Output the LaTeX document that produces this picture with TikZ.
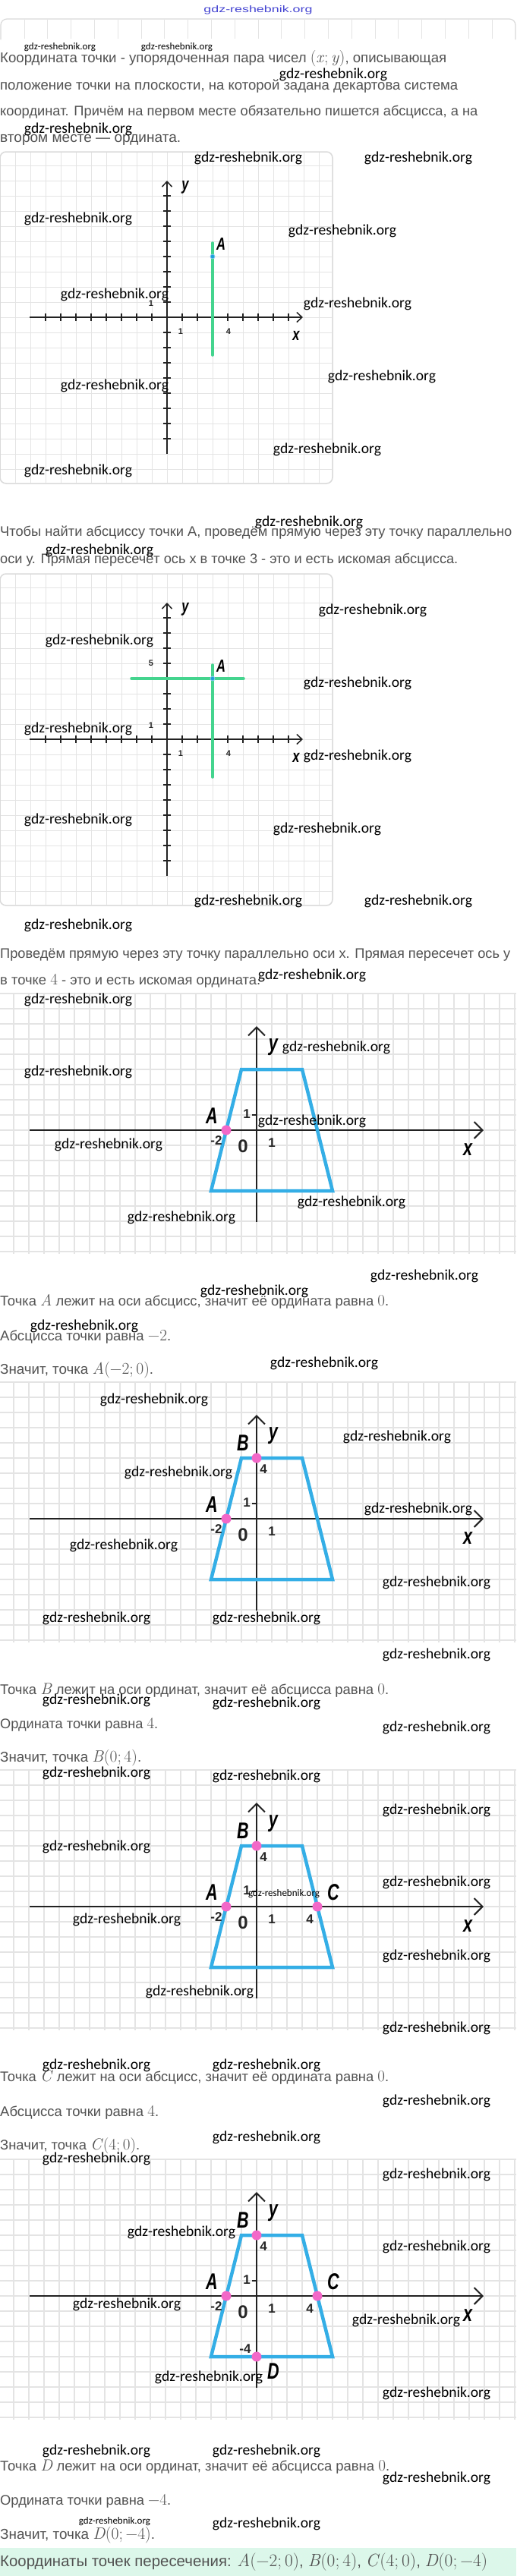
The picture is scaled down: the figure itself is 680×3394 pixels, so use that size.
\documentclass[tikz,border=0pt]{standalone}
\usepackage{fontspec}
\setmainfont{Liberation Sans}
\newfontfamily\wmfont{Carlito}
\newfontfamily\lmr{Latin Modern Roman}
\usetikzlibrary{arrows.meta}
\definecolor{textgray}{RGB}{82,82,82}
\definecolor{gridgray}{RGB}{228,228,228}
\definecolor{framegray}{RGB}{218,218,218}
\definecolor{axisblack}{RGB}{34,34,34}
\definecolor{lgreen}{RGB}{68,212,142}
\definecolor{dotblue}{RGB}{30,160,220}
\definecolor{trapblue}{RGB}{52,174,230}
\definecolor{ptpink}{RGB}{242,104,200}
\definecolor{mint}{RGB}{220,247,234}
\definecolor{wmblue}{RGB}{70,70,210}
\newcommand\wmL{\resizebox{142pt}{!}{\wmfont gdz-reshebnik.org}}
\newcommand\wmS{\resizebox{94pt}{!}{\wmfont gdz-reshebnik.org}}
\newcommand\cn[1]{\scalebox{0.72}[1]{#1}}
\newcommand\mth[1]{{\lmr\fontsize{20}{20}\selectfont #1}}
\newcommand\vi[1]{\textit{#1}}
\newcommand\fitw[2]{\resizebox{#1pt}{!}{#2}}
\tikzset{
  txt/.style={anchor=base west, inner sep=0pt, text=textgray, font=\fontsize{17.4}{20}\selectfont},
  wm/.style={inner sep=0pt, text=black},
  gridone/.style={draw=gridgray, line width=1pt},
  frameone/.style={draw=framegray, line width=1.5pt, rounded corners=8pt},
  axisone/.style={draw=axisblack, line width=1.8pt},
  tickone/.style={draw=axisblack, line width=1.8pt},
  arrone/.style={-{Straight Barb[length=7pt,width=13pt,line width=1.5pt]}},
  lblone/.style={inner sep=0pt, text=black, font=\fontsize{23}{23}\selectfont\bfseries\itshape},
  numone/.style={inner sep=0pt, text=black!85, font=\fontsize{11}{11}\selectfont\bfseries},
  greenline/.style={draw=lgreen, line width=3.5pt, line cap=round},
  bluedot/.style={circle, inner sep=0pt, minimum size=6pt, fill=dotblue, draw=dotblue!50, line width=0.8pt},
  gridtwo/.style={draw=gridgray, line width=1.2pt},
  axistwo/.style={draw=axisblack, line width=2.2pt},
  arrtwo/.style={-{Straight Barb[length=11pt,width=22pt,line width=2pt]}},
  trap/.style={draw=trapblue, line width=4.5pt, line join=miter},
  pinkdot/.style={circle, inner sep=0pt, minimum size=13pt, fill=ptpink},
  lbltwo/.style={inner sep=0pt, text=black, font=\fontsize{30}{30}\selectfont\bfseries\itshape},
  numtwo/.style={inner sep=0pt, text=black!85, font=\fontsize{17}{17}\selectfont\bfseries},
  zerotwo/.style={inner sep=0pt, text=black!85, font=\fontsize{24}{24}\selectfont\bfseries},
}
% framed grid figure (figures 1 and 2); #1 = axis y, #2 = prefix
\newcommand\framefig[2]{%
\begin{scope}[shift={(220,#1)}]
  \foreach \i in {-200,-180,...,200} \draw[gridone] (\i,-217) -- (\i,218);
  \foreach \j in {-200,-180,...,200} \draw[gridone] (-219,\j) -- (217,\j);
  \draw[frameone] (-220,-218) rectangle (218,219);
  \coordinate (#2xl) at (-181,0); \coordinate (#2xr) at (179,0);
  \coordinate (#2yb) at (0,180); \coordinate (#2yt) at (0,-180);
  \draw[axisone,arrone] (#2xl) -- (#2xr);
  \draw[axisone,arrone] (#2yb) -- (#2yt);
  \foreach \i in {-160,-140,...,-20,20,40,...,160} {
    \draw[tickone] (\i,-5) -- (\i,5);
    \draw[tickone] (-5,\i) -- (5,\i);
  }
  \node[lblone] (#2ylab) at (24,-171) {\cn{y}};
  \node[lblone] (#2xlab) at (170,24) {\cn{x}};
  \node[numone] (#2one) at (-21,-18) {1};
  \node[numone] (#2onex) at (18,19) {1};
  \node[numone] (#2four) at (81,19) {4};
  \coordinate (#2gt) at (60,-98); \coordinate (#2gb) at (60,50);
  \draw[greenline] (#2gt) -- (#2gb);
\end{scope}}
% trapezoid figure; #1 = axis y, #2 = prefix
\newcommand\trapfig[2]{%
\begin{scope}[shift={(338,#1)}]
  \foreach \i in {-320,-300,...,340} \draw[gridtwo] (\i,-181) -- (\i,163);
  \foreach \j in {-180,-160,...,160} \draw[gridtwo] (-338,\j) -- (342,\j);
  \coordinate (#2xl) at (-299,0); \coordinate (#2xr) at (299,0);
  \coordinate (#2yb) at (0,121); \coordinate (#2yt) at (0,-137);
  \draw[axistwo,arrtwo] (#2xl) -- (#2xr);
  \draw[axistwo,arrtwo] (#2yb) -- (#2yt);
  \coordinate (#2p1) at (-20,-80); \coordinate (#2p2) at (60,-80);
  \coordinate (#2p3) at (100,80); \coordinate (#2p4) at (-60,80);
  \draw[trap] (#2p1) -- (#2p2) -- (#2p3) -- (#2p4) -- cycle;
  \draw[axisblack, line width=1.5pt] (-6,-20) -- (0,-20);
  \node[lbltwo] (#2ylab) at (22,-109) {\cn{y}};
  \node[lbltwo] (#2xlab) at (278,26) {\cn{x}};
  \node[lbltwo] (#2Alab) at (-59,-19) {\cn{A}};
  \node[numtwo] (#2oney) at (-13,-21) {1};
  \node[numtwo] (#2mtwo) at (-53,14) {-2};
  \node[zerotwo] (#2zero) at (-18,21) {0};
  \node[numtwo] (#2onex) at (20,17) {1};
  \node[pinkdot] (#2A) at (-40,0) {};
\end{scope}}
\begin{document}
\begin{tikzpicture}[x=1pt,y=-1pt]
\useasboundingbox (0,0) rectangle (680,3394);
\fill[white] (0,0) rectangle (680,3394);

% ---------- header ----------
\node[inner sep=0pt] (topwm) at (340,13) {\resizebox{143pt}{9pt}{\color{wmblue}gdz-reshebnik.org}};
\draw[draw=framegray, line width=1.2pt, rounded corners=8pt] (1,52) -- (1,25) -- (679,25) -- (679,52);
\foreach \k in {0,...,20} \draw[gridone] (32+30.8*\k,26) -- (32+30.8*\k,51);

\node[txt] (t1) at (0,82) {\fitw{588}{Координата точки - упорядоченная пара чисел \mth{(\vi{x};\,\vi{y})}, описывающая}};
\node[txt] (t2) at (0,118) {\fitw{603}{положение точки на плоскости, на которой задана декартова система}};
\node[txt] (t3) at (0,152) {\fitw{629}{координат. Причём на первом месте обязательно пишется абсцисса, а на}};
\node[txt] (t4) at (0,187) {\fitw{238}{втором месте — ордината.}};

% ---------- figure 1 ----------
\framefig{418}{fa}
\node[bluedot] (faA) at (280,338) {};
\node[lblone] (faAlab) at (291,322) {\cn{A}};

% ---------- section 2 ----------
\node[txt] (t5) at (0,706) {\fitw{674}{Чтобы найти абсциссу точки А, проведём прямую через эту точку параллельно}};
\node[txt] (t6) at (0,742) {\fitw{603}{оси у. Прямая пересечёт ось х в точке 3 - это и есть искомая абсцисса.}};

% ---------- figure 2 ----------
\framefig{974}{fb}
\coordinate (fbhl) at (173,894); \coordinate (fbhr) at (321,894);
\draw[greenline] (fbhl) -- (fbhr);
\node[bluedot] (fbA) at (280,894) {};
\node[lblone] (fbAlab) at (291,878) {\cn{A}};
\node[numone] (fbfive) at (199,874) {5};

% ---------- section 3 ----------
\node[txt] (t7) at (0,1262) {\fitw{672}{Проведём прямую через эту точку параллельно оси х. Прямая пересечет ось у}};
\node[txt] (t8) at (0,1297) {\fitw{343}{в точке \mth{4} - это и есть искомая ордината.}};

\trapfig{1489}{fc}

\node[txt] (t9) at (0,1720) {\fitw{512}{Точка \mth{\vi{A}} лежит на оси абсцисс, значит её ордината равна \mth{0}.}};
\node[txt] (t10) at (0,1766) {\fitw{225}{Абсцисса точки равна \mth{−2}.}};
\node[txt] (t11) at (0,1810) {\fitw{202}{Значит, точка \mth{\vi{A}(−2;\,0)}.}};

% ---------- figure 4 ----------
\trapfig{2001}{fd}
\begin{scope}[shift={(338,2001)}]
  \node[pinkdot] (fdB) at (0,-80) {};
  \node[lbltwo] (fdBlab) at (-18,-100) {\cn{B}};
  \node[numtwo] (fdfour) at (9,-65) {4};
\end{scope}

\node[txt] (t12) at (0,2232) {\fitw{512}{Точка \mth{\vi{B}} лежит на оси ординат, значит её абсцисса равна \mth{0}.}};
\node[txt] (t13) at (0,2277) {\fitw{208}{Ордината точки равна \mth{4}.}};
\node[txt] (t14) at (0,2321) {\fitw{186}{Значит, точка \mth{\vi{B}(0;\,4)}.}};

% ---------- figure 5 ----------
\trapfig{2512}{fe}
\begin{scope}[shift={(338,2512)}]
  \node[pinkdot] (feB) at (0,-80) {};
  \node[pinkdot] (feC) at (80,0) {};
  \node[lbltwo] (feBlab) at (-18,-100) {\cn{B}};
  \node[numtwo] (fefour) at (9,-65) {4};
  \node[lbltwo] (feClab) at (101,-19) {\cn{C}};
  \node[numtwo] (fefourx) at (70,17) {4};
\end{scope}

\node[txt] (t15) at (0,2742) {\fitw{512}{Точка \mth{\vi{C}} лежит на оси абсцисс, значит её ордината равна \mth{0}.}};
\node[txt] (t16) at (0,2788) {\fitw{209}{Абсцисса точки равна \mth{4}.}};
\node[txt] (t17) at (0,2832) {\fitw{184}{Значит, точка \mth{\vi{C}(4;\,0)}.}};

% ---------- figure 6 ----------
\trapfig{3025}{ff}
\begin{scope}[shift={(338,3025)}]
  \node[pinkdot] (ffB) at (0,-80) {};
  \node[pinkdot] (ffC) at (80,0) {};
  \node[pinkdot] (ffD) at (0,80) {};
  \node[lbltwo] (ffBlab) at (-18,-100) {\cn{B}};
  \node[numtwo] (fffour) at (9,-65) {4};
  \node[lbltwo] (ffClab) at (101,-19) {\cn{C}};
  \node[numtwo] (fffourx) at (70,17) {4};
  \node[numtwo] (ffmfour) at (-15,70) {-4};
  \node[lbltwo] (ffDlab) at (22,99) {\cn{D}};
\end{scope}

\node[txt] (t18) at (0,3255) {\fitw{513}{Точка \mth{\vi{D}} лежит на оси ординат, значит её абсцисса равна \mth{0}.}};
\node[txt] (t19) at (0,3300) {\fitw{225}{Ордината точки равна \mth{−4}.}};
\node[txt] (t20) at (0,3345) {\fitw{204}{Значит, точка \mth{\vi{D}(0;\,−4)}.}};

\fill[mint] (0,3357) rectangle (680,3394);
\node[txt] (t21) at (0,3381) {\fitw{642}{Координаты точек пересечения: \mth{\vi{A}(−2;\,0)}, \mth{\vi{B}(0;\,4)}, \mth{\vi{C}(4;\,0)}, \mth{\vi{D}(0;\,−4)}}};

% ---------- watermarks ----------
\foreach \x/\y [count=\n] in {
  439/98, 103/170,
  327/208, 551/208, 103/288, 451/304, 151/388, 471/400, 503/496, 151/508, 431/592, 103/620,
  407/688, 131/725,
  491/804, 131/844, 471/900, 103/960, 471/996, 103/1080, 431/1092, 327/1187, 551/1187, 103/1219,
  411/1285, 103/1317,
  443/1380, 103/1412, 411/1477, 143/1508, 463/1584, 239/1604, 559/1681, 335/1701,
  111/1747, 427/1796,
  203/1844, 523/1893, 235/1940, 551/1988, 163/2036, 575/2085, 127/2132, 351/2132, 575/2180,
  127/2240, 351/2244, 575/2276,
  127/2336, 351/2340,
  575/2385, 127/2433, 575/2480, 167/2529, 575/2577, 263/2624, 575/2672, 127/2721, 351/2721,
  575/2768, 351/2816, 127/2844, 575/2865,
  239/2941, 575/2960, 167/3036, 535/3057, 275/3132, 575/3153, 127/3229, 351/3229, 575/3265, 351/3325}
  \node[wm] (wmL\n) at (\x,\y) {\wmL};
\foreach \x/\y [count=\n] in {79/62, 233/62, 374/2495, 151/3322}
  \node[wm] (wmS\n) at (\x,\y) {\wmS};
\end{tikzpicture}
\end{document}
